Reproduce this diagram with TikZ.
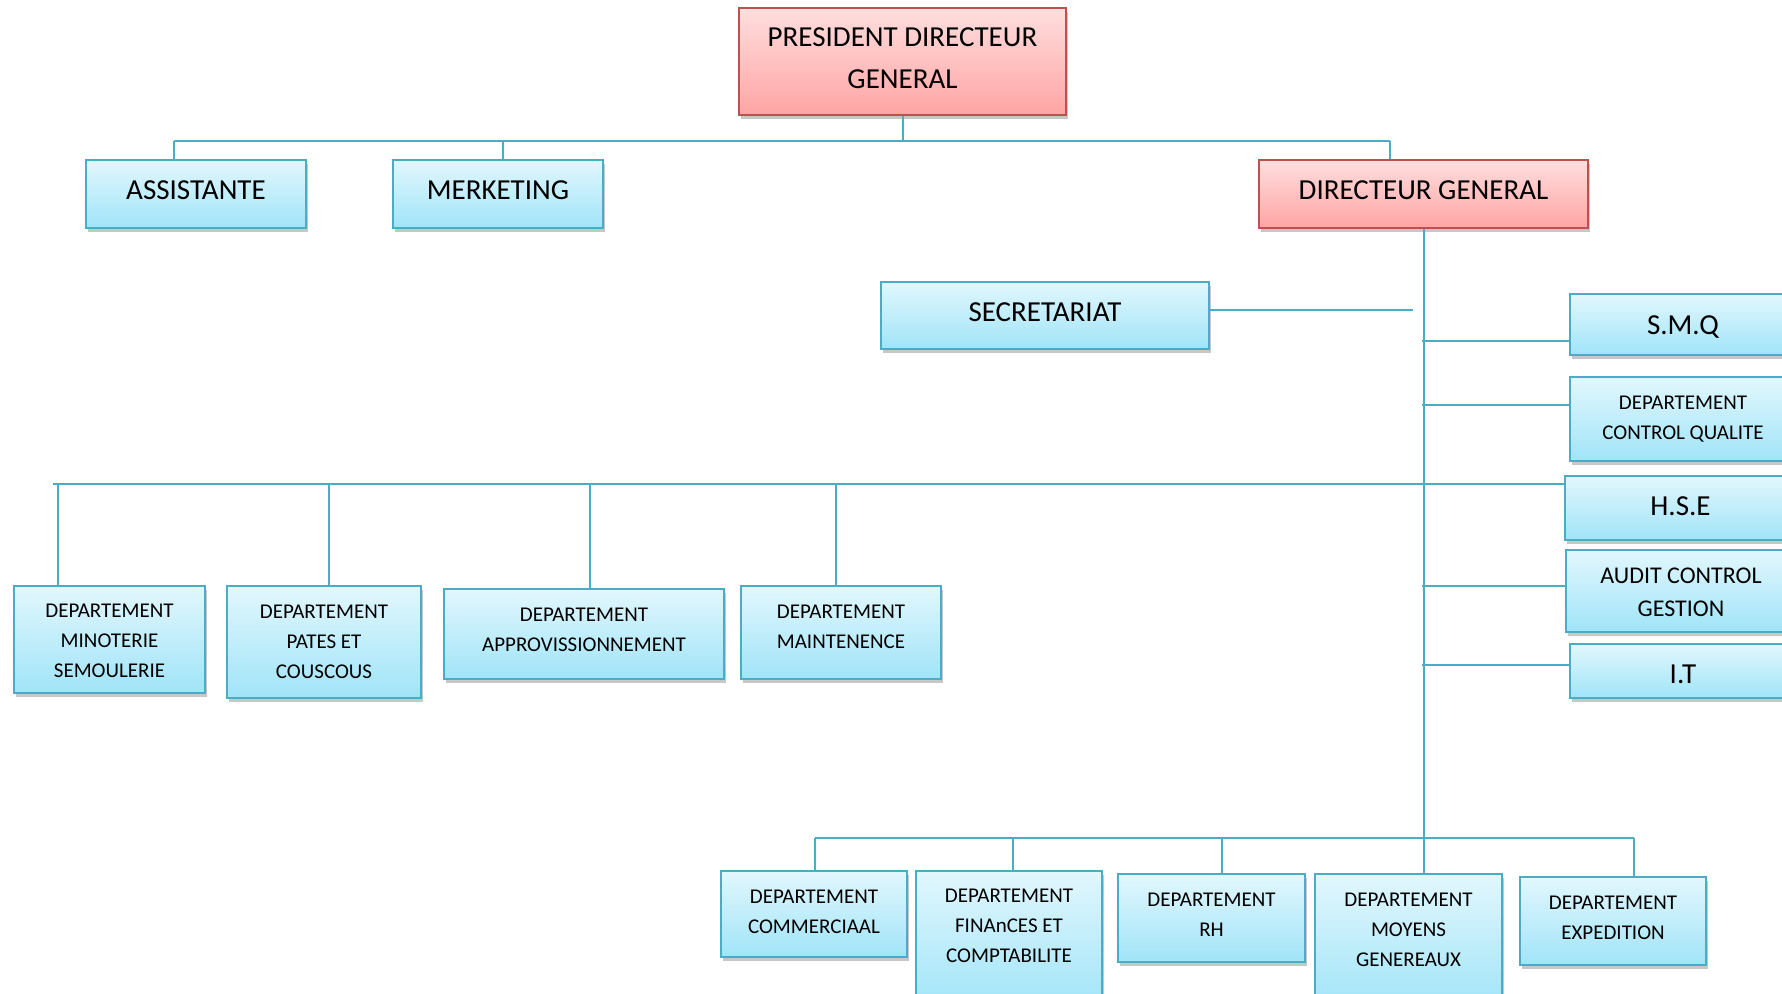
\documentclass[tikz,border=0pt]{standalone}
\usepackage{fontspec}
\setmainfont{Carlito}
\usetikzlibrary{shadows}

\definecolor{bluetop}{RGB}{226,247,253}
\definecolor{bluebot}{RGB}{160,228,248}
\definecolor{blueedge}{RGB}{75,172,198}
\definecolor{redtop}{RGB}{255,222,222}
\definecolor{redbot}{RGB}{255,164,164}
\definecolor{rededge}{RGB}{192,80,77}
\definecolor{linkcol}{RGB}{75,172,198}

\tikzset{
  unit/.style={draw=blueedge, line width=1.6pt, top color=bluetop, bottom color=bluebot,
    inner sep=0pt,
    drop shadow={shadow xshift=2pt, shadow yshift=-4pt, fill=black, opacity=0.22}},
  headbox/.style={unit, draw=rededge, top color=redtop, bottom color=redbot},
  lbl/.style={align=center, inner sep=0pt, text=black},
  bigtxt/.style={lbl, font=\fontsize{29}{42}\selectfont},
  midtxt/.style={lbl, font=\fontsize{24}{33}\selectfont},
  smalltxt/.style={lbl, font=\fontsize{21}{30}\selectfont},
  link/.style={draw=linkcol, line width=2pt}
}

\begin{document}
\begin{tikzpicture}[x=1pt, y=-1pt]
\useasboundingbox (0,0) rectangle (1782,993);
\clip (0,0) rectangle (1782,993);

% --- top level
\node[headbox, minimum width=327pt, minimum height=107pt,
  label={[bigtxt, yshift=3.4pt]center:PRESIDENT DIRECTEUR\\GENERAL}] (pdg) at (902.5,61.5) {};
\node[unit, minimum width=220pt, minimum height=68pt,
  label={[bigtxt, yshift=3.4pt]center:ASSISTANTE}] (asst) at (196,194) {};
\node[unit, minimum width=210pt, minimum height=68pt,
  label={[bigtxt, yshift=3.4pt]center:MERKETING}] (merk) at (498,194) {};
\node[headbox, minimum width=329pt, minimum height=68pt,
  label={[bigtxt, yshift=3.4pt]center:DIRECTEUR GENERAL}] (dg) at (1423.5,194) {};

% --- staff attached to the general manager
\node[unit, minimum width=328pt, minimum height=67pt,
  label={[bigtxt, yshift=3.4pt]center:SECRETARIAT}] (sec) at (1045,315.5) {};
\node[unit, minimum width=230pt, minimum height=61pt,
  label={[bigtxt, xshift=-2pt, yshift=-2.3pt]center:S.M.Q}] (smq) at (1685,324.5) {};
\node[unit, minimum width=230pt, minimum height=84pt,
  label={[smalltxt, xshift=-2pt]center:DEPARTEMENT\\CONTROL QUALITE}] (cq) at (1685,419) {};
\node[unit, minimum width=235pt, minimum height=64pt,
  label={[bigtxt, xshift=-2pt, yshift=2.3pt]center:H.S.E}] (hse) at (1682.5,508) {};
\node[unit, minimum width=234pt, minimum height=82pt,
  label={[midtxt, xshift=-2pt, yshift=-1.1pt]center:AUDIT CONTROL\\GESTION}] (audit) at (1683,591) {};
\node[unit, minimum width=230pt, minimum height=54pt,
  label={[bigtxt, xshift=-2pt, yshift=-3.4pt]center:I.T}] (it) at (1685,671) {};

% --- production departments
\node[unit, minimum width=191pt, minimum height=107pt,
  label={[smalltxt, yshift=-1.7pt]center:DEPARTEMENT\\MINOTERIE\\SEMOULERIE}] (mino) at (109.5,639.5) {};
\node[unit, minimum width=194pt, minimum height=112pt,
  label={[smalltxt]center:DEPARTEMENT\\PATES ET\\COUSCOUS}] (pates) at (324,642) {};
\node[unit, minimum width=280pt, minimum height=90pt,
  label={[smalltxt, yshift=4pt]center:DEPARTEMENT\\APPROVISSIONNEMENT}] (appro) at (584,634) {};
\node[unit, minimum width=200pt, minimum height=93pt,
  label={[smalltxt, yshift=5.7pt]center:DEPARTEMENT\\MAINTENENCE}] (maint) at (841,632.5) {};

% --- support departments
\node[unit, minimum width=186pt, minimum height=86pt,
  label={[smalltxt, yshift=2.3pt]center:DEPARTEMENT\\COMMERCIAAL}] (comm) at (814,914) {};
\node[unit, minimum width=186pt, minimum height=139pt,
  label={[smalltxt, yshift=14.5pt]center:DEPARTEMENT\\FINAnCES ET\\COMPTABILITE}] (fin) at (1009,940.5) {};
\node[unit, minimum width=187pt, minimum height=88pt,
  label={[smalltxt, yshift=3.4pt]center:DEPARTEMENT\\RH}] (rh) at (1211.5,918) {};
\node[unit, minimum width=187pt, minimum height=136pt,
  label={[smalltxt, yshift=12.5pt]center:DEPARTEMENT\\MOYENS\\GENEREAUX}] (moy) at (1408.5,942) {};
\node[unit, minimum width=186pt, minimum height=88pt,
  label={[smalltxt, yshift=2.8pt]center:DEPARTEMENT\\EXPEDITION}] (exp) at (1613,921) {};

% --- junction points
\coordinate (tbL) at (174,141);
\coordinate (tbR) at (1390,141);
\coordinate (jmerk) at (503,141);
\coordinate (jsec) at (1413,310);
\coordinate (jsmq) at (1422,341);
\coordinate (jcq) at (1422,405);
\coordinate (lbL) at (53,484);
\coordinate (lbR) at (1422,484);
\coordinate (jaudit) at (1422,586);
\coordinate (jit) at (1422,665);
\coordinate (jmino) at (58,484);
\coordinate (jpates) at (329,484);
\coordinate (jappro) at (590,484);
\coordinate (jmaint) at (836,484);
\coordinate (bbL) at (815,838);
\coordinate (bbR) at (1634,838);
\coordinate (jfin) at (1013,838);
\coordinate (jrh) at (1222,838);

% --- connectors
\draw[link] (pdg.south) -- (pdg.south |- tbL);
\draw[link] (tbL) -- (tbR);
\draw[link] (tbL) -- (tbL |- asst.north);
\draw[link] (jmerk) -- (jmerk |- merk.north);
\draw[link] (tbR) -- (tbR |- dg.north);

\draw[link] (dg.south) -- (dg.south |- moy.north);
\draw[link] (sec.east |- jsec) -- (jsec);
\draw[link] (jsmq) -- (jsmq -| smq.west);
\draw[link] (jcq) -- (jcq -| cq.west);
\draw[link] (lbR) -- (lbR -| hse.west);
\draw[link] (jaudit) -- (jaudit -| audit.west);
\draw[link] (jit) -- (jit -| it.west);

\draw[link] (lbL) -- (lbR);
\draw[link] (jmino) -- (jmino |- mino.north);
\draw[link] (jpates) -- (jpates |- pates.north);
\draw[link] (jappro) -- (jappro |- appro.north);
\draw[link] (jmaint) -- (jmaint |- maint.north);

\draw[link] (bbL) -- (bbR);
\draw[link] (bbL) -- (bbL |- comm.north);
\draw[link] (jfin) -- (jfin |- fin.north);
\draw[link] (jrh) -- (jrh |- rh.north);
\draw[link] (bbR) -- (bbR |- exp.north);
\end{tikzpicture}
\end{document}
